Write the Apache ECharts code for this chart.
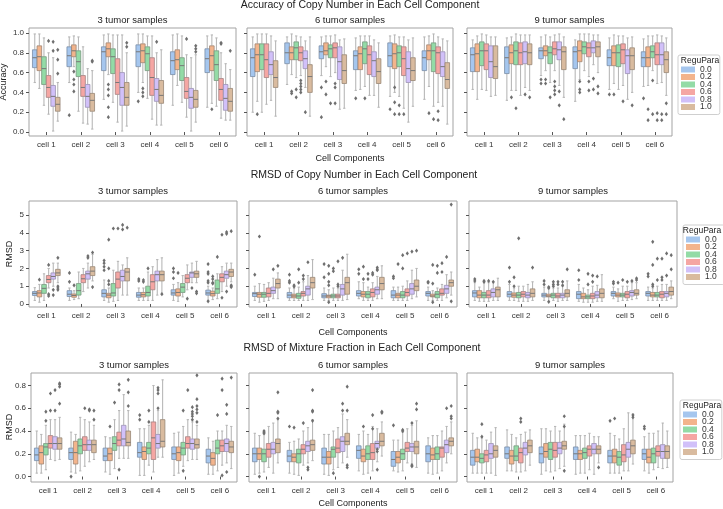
<!DOCTYPE html>
<html><head><meta charset="utf-8">
<script src="https://cdn.jsdelivr.net/npm/echarts@6/dist/echarts.min.js"></script>
<style>html,body{margin:0;padding:0;background:#fff}#c{width:723px;height:509px}</style>
</head><body><div id="c"></div>
<script>
// ---------------- data ----------------
const cells = ['cell 1','cell 2','cell 3','cell 4','cell 5','cell 6'];
const reguPara = ['0.0','0.2','0.4','0.6','0.8','1.0'];
const rowTitles = ['Accuracy of Copy Number in Each Cell Component','RMSD of Copy Number in Each Cell Component','RMSD of Mixture Fraction in Each Cell Component'];
const panelTitles = ['3 tumor samples','6 tumor samples','9 tumor samples'];
const yNames = ['Accuracy','RMSD','RMSD'];
const xName = 'Cell Components';
const legendTitle = 'ReguPara';
const yTicksAcc = [0,0.2,0.4,0.6,0.8,1.0];
const yTicksCN = [0,1,2,3,4,5];
const yTicksMix = [0,0.2,0.4,0.6,0.8];

// box stats: [cell][ReguPara] = [lowWhisker, q1, median, q3, highWhisker]; outliers: [cell][ReguPara] = [...]
const acc3Box = [
 [[0.50,0.65,0.75,0.83,0.99],[0.44,0.62,0.76,0.87,0.99],[0.27,0.48,0.64,0.76,0.95],[0.18,0.35,0.45,0.57,0.80],[0.01,0.26,0.36,0.47,0.75],[0.11,0.21,0.28,0.35,0.50]],
 [[0.50,0.66,0.77,0.86,0.96],[0.66,0.76,0.82,0.88,0.97],[0.21,0.56,0.71,0.82,0.96],[0.09,0.36,0.45,0.57,0.86],[0.08,0.25,0.36,0.48,0.64],[0.03,0.21,0.32,0.39,0.62]],
 [[0.33,0.62,0.81,0.86,0.98],[0.58,0.76,0.84,0.90,0.99],[0.30,0.59,0.76,0.84,0.98],[0.10,0.38,0.50,0.74,0.98],[0.01,0.27,0.45,0.60,0.98],[0.06,0.27,0.35,0.50,0.80]],
 [[0.40,0.66,0.81,0.88,0.99],[0.50,0.70,0.82,0.89,0.99],[0.34,0.62,0.79,0.86,0.97],[0.13,0.37,0.55,0.75,0.97],[0.07,0.31,0.43,0.54,0.80],[0.07,0.29,0.37,0.52,0.83]],
 [[0.27,0.58,0.72,0.81,0.98],[0.47,0.63,0.73,0.83,0.99],[0.30,0.52,0.67,0.75,0.97],[0.15,0.34,0.41,0.55,0.78],[0.01,0.24,0.35,0.44,0.75],[0.10,0.25,0.33,0.42,0.78]],
 [[0.25,0.60,0.74,0.84,0.97],[0.29,0.62,0.77,0.87,0.98],[0.26,0.52,0.68,0.82,0.95],[0.14,0.32,0.43,0.54,0.80],[0.12,0.22,0.34,0.48,0.69],[0.12,0.21,0.31,0.44,0.63]]
];
const acc3Out = [
 [[],[],[],[0.92],[0.91,0.82],[0.83,0.73,0.59]],
 [[0.17],[0.61,0.53,0.48,0.41],[],[],[],[0.72,0.71]],
 [[],[0.48,0.43,0.37,0.25,0.15],[],[],[],[0.90,0.86]],
 [[0.31],[0.44,0.40,0.36],[],[],[0.91],[]],
 [[],[],[],[0.94],[],[0.87,0.84,0.81]],
 [[],[0.23],[],[0.90,0.89],[],[0.82]]
];
const acc6Box = [
 [[0.20,0.56,0.75,0.84,0.96],[0.31,0.61,0.78,0.89,0.99],[0.20,0.63,0.78,0.89,0.99],[0.28,0.55,0.73,0.89,0.99],[0.32,0.58,0.68,0.81,0.97],[0.16,0.45,0.55,0.72,0.92]],
 [[0.48,0.69,0.80,0.90,0.96],[0.58,0.73,0.80,0.86,0.99],[0.55,0.73,0.85,0.91,0.97],[0.57,0.72,0.80,0.86,0.96],[0.45,0.64,0.74,0.82,0.92],[0.16,0.40,0.56,0.68,0.96]],
 [[0.57,0.74,0.81,0.87,0.96],[0.66,0.78,0.82,0.90,0.97],[0.56,0.75,0.84,0.88,0.97],[0.60,0.75,0.85,0.90,0.98],[0.23,0.53,0.71,0.86,0.93],[0.24,0.49,0.62,0.78,0.94]],
 [[0.42,0.63,0.77,0.82,0.95],[0.43,0.63,0.79,0.86,0.97],[0.46,0.69,0.84,0.91,0.97],[0.37,0.58,0.78,0.87,0.97],[0.37,0.56,0.72,0.81,0.93],[0.25,0.49,0.61,0.74,0.90]],
 [[0.36,0.66,0.77,0.90,0.97],[0.40,0.64,0.79,0.89,0.98],[0.36,0.66,0.80,0.87,0.96],[0.24,0.57,0.74,0.86,0.96],[0.10,0.50,0.64,0.81,0.93],[0.26,0.52,0.62,0.75,0.95]],
 [[0.33,0.62,0.75,0.82,0.96],[0.46,0.73,0.82,0.88,0.97],[0.26,0.61,0.82,0.90,0.99],[0.30,0.59,0.80,0.86,0.96],[0.26,0.56,0.66,0.81,0.94],[0.08,0.44,0.53,0.70,0.92]]
];
const acc6Out = [
 [[],[0.18],[],[],[],[]],
 [[],[0.41,0.39],[0.43,0.35],[0.52,0.49,0.46,0.43,0.40],[0.20],[]],
 [[0.45,0.15],[0.51,0.38],[0.29],[0.49,0.45,0.29],[],[]],
 [[0.34],[],[0.34],[],[],[]],
 [[0.23],[0.45,0.30,0.18],[0.27,0.18],[0.18],[],[]],
 [[],[0.19],[0.13],[0.21,0.12],[],[]]
];
const acc9Box = [
 [[0.43,0.61,0.78,0.85,0.93],[0.33,0.61,0.79,0.89,0.97],[0.43,0.67,0.82,0.91,0.99],[0.42,0.63,0.82,0.89,0.98],[0.36,0.55,0.71,0.87,0.96],[0.37,0.54,0.66,0.87,0.96]],
 [[0.32,0.59,0.75,0.86,0.95],[0.42,0.69,0.80,0.88,0.96],[0.42,0.68,0.82,0.91,0.99],[0.37,0.68,0.80,0.90,0.98],[0.45,0.69,0.81,0.91,0.98],[0.42,0.68,0.80,0.89,0.98]],
 [[0.57,0.74,0.82,0.85,0.96],[0.62,0.77,0.82,0.87,0.98],[0.50,0.69,0.80,0.86,0.96],[0.62,0.78,0.84,0.91,0.98],[0.47,0.73,0.83,0.91,0.99],[0.35,0.63,0.81,0.86,0.96]],
 [[0.31,0.64,0.81,0.86,0.93],[0.53,0.71,0.82,0.92,0.99],[0.62,0.79,0.86,0.91,0.99],[0.56,0.76,0.85,0.90,0.99],[0.68,0.80,0.85,0.92,0.98],[0.60,0.76,0.86,0.91,0.98]],
 [[0.43,0.67,0.75,0.83,0.95],[0.49,0.67,0.80,0.87,0.98],[0.43,0.66,0.80,0.88,0.97],[0.47,0.69,0.83,0.89,0.97],[0.33,0.59,0.77,0.83,0.95],[0.40,0.63,0.77,0.85,0.96]],
 [[0.46,0.66,0.75,0.81,0.94],[0.47,0.66,0.75,0.86,0.97],[0.62,0.75,0.81,0.87,0.97],[0.49,0.68,0.78,0.90,0.98],[0.50,0.68,0.78,0.90,0.97],[0.37,0.60,0.73,0.81,0.95]]
];
const acc9Out = [
 [[],[],[],[],[],[]],
 [[],[0.35],[0.24],[],[0.38],[0.35]],
 [[0.53,0.49],[0.53,0.49],[0.35],[0.51,0.46,0.42,0.38],[0.41,0.27],[0.13]],
 [[],[0.51,0.43,0.40],[],[0.51,0.42],[0.54,0.43],[0.46,0.39]],
 [[0.38],[0.38],[],[0.31],[],[0.27]],
 [[0.34],[0.23,0.12],[0.52,0.18],[0.19,0.12],[0.18,0.12],[0.29,0.18]]
];
const cn3Box = [
 [[0.2,0.48,0.60,0.70,0.92],[0.1,0.40,0.62,0.75,1.1],[0.2,0.6,0.88,1.1,1.7],[0.9,1.2,1.38,1.6,2.0],[1.0,1.4,1.55,1.75,2.3],[1.2,1.6,1.75,1.95,2.3]],
 [[0.2,0.42,0.55,0.75,0.9],[0.25,0.38,0.48,0.56,0.75],[0.3,0.5,0.75,1.15,1.8],[0.7,1.2,1.42,1.65,2.0],[0.9,1.4,1.7,1.85,2.3],[1.3,1.6,1.85,2.1,2.8]],
 [[0.2,0.4,0.6,0.8,1.35],[0.1,0.35,0.5,0.6,0.9],[0.15,0.45,0.62,1.15,1.9],[0.2,0.9,1.4,1.8,2.4],[0.5,1.3,1.55,1.9,2.2],[0.5,1.3,1.8,2.0,2.6]],
 [[0.2,0.38,0.5,0.65,0.9],[0.2,0.4,0.52,0.65,0.9],[0.2,0.45,0.65,1.0,1.8],[0.2,0.8,1.25,1.65,2.1],[0.5,1.3,1.65,1.85,2.5],[0.6,1.3,1.65,1.85,2.6]],
 [[0.2,0.5,0.62,0.8,1.1],[0.15,0.45,0.65,0.85,1.2],[0.4,0.65,0.95,1.15,1.6],[0.8,1.2,1.45,1.65,2.2],[1.2,1.5,1.75,1.8,2.3],[1.2,1.5,1.7,1.85,2.4]],
 [[0.2,0.5,0.62,0.78,1.0],[0.25,0.45,0.58,0.72,0.9],[0.3,0.6,0.85,1.35,1.7],[0.7,1.25,1.5,1.7,2.1],[1.0,1.45,1.65,1.85,2.3],[1.25,1.55,1.8,1.95,2.3]]
];
const cn3Out = [
 [[],[1.37],[],[2.2,0.55,0.45],[0.8,0.5],[2.6,1.0,0.9,0.8]],
 [[1.75,1.25],[1.05],[],[],[2.7,2.6],[2.9,0.95]],
 [[2.45,2.3,2.1,1.9],[3.62,2.0,1.3,1.1],[4.25],[4.25],[4.45,4.2],[4.3]],
 [[1.4,1.3],[1.35,1.25],[2.0],[],[],[0.55]],
 [[2.0,1.8,1.45],[1.75],[],[0.3],[0.9],[0.7,0.6]],
 [[2.25,1.8,1.7,1.3,1.2,0.15],[1.55,1.4,1.2,1.15],[2.65],[3.9,0.35],[4.05,3.95,0.7],[4.1,1.05,1.0,0.95]]
];
const cn6Box = [
 [[0.2,0.42,0.58,0.65,1.0],[0.1,0.38,0.55,0.65,1.15],[0.15,0.38,0.55,0.65,1.1],[0.2,0.4,0.6,0.9,1.2],[0.3,0.6,0.75,0.95,1.45],[0.3,0.9,1.15,1.4,1.75]],
 [[0.2,0.35,0.5,0.65,0.9],[0.2,0.35,0.45,0.55,0.9],[0.2,0.32,0.45,0.6,0.95],[0.2,0.45,0.6,0.7,1.25],[0.2,0.5,0.85,1.0,1.6],[0.25,0.9,1.2,1.5,2.5]],
 [[0.2,0.35,0.45,0.58,0.9],[0.2,0.35,0.45,0.5,0.8],[0.2,0.35,0.45,0.55,0.9],[0.2,0.35,0.45,0.55,0.9],[0.2,0.5,0.85,1.1,1.9],[0.25,0.55,1.2,1.5,2.8]],
 [[0.3,0.45,0.6,0.75,1.25],[0.2,0.4,0.55,0.7,1.2],[0.2,0.35,0.55,0.7,0.95],[0.2,0.4,0.65,0.85,1.2],[0.3,0.55,0.8,0.95,1.55],[0.3,0.8,1.15,1.5,2.15]],
 [[0.2,0.35,0.5,0.75,0.95],[0.2,0.35,0.5,0.6,0.95],[0.2,0.35,0.5,0.7,1.0],[0.2,0.45,0.65,0.85,1.3],[0.3,0.55,0.85,1.15,1.9],[0.4,0.75,1.0,1.35,2.0]],
 [[0.2,0.45,0.6,0.7,0.95],[0.2,0.4,0.45,0.55,0.75],[0.2,0.35,0.55,0.7,0.9],[0.2,0.5,0.6,0.85,1.1],[0.35,0.6,0.85,1.05,1.65],[0.5,1.0,1.2,1.35,1.8]]
];
const cn6Out = [
 [[1.65],[3.8],[],[],[1.95],[2.15]],
 [[1.65,1.3,1.2],[1.05,0.98],[1.95,1.2],[1.6,1.4],[2.35],[]],
 [[2.25,1.5],[2.15,1.7,1.25,1.05,0.1],[2.0,1.85],[2.4,1.1,1.0],[2.6],[]],
 [[1.95,1.7],[2.1,1.4],[1.7,1.4],[1.75,1.65],[2.05,1.95,1.9],[]],
 [[1.55,1.45],[2.25],[2.75,2.0],[2.85],[2.95],[3.0]],
 [[1.25,1.2],[2.2,1.15,0.1],[2.15,1.75],[2.3,1.8],[2.65],[5.6,0.15]]
];
const cn9Box = [
 [[0.2,0.4,0.62,0.75,1.2],[0.15,0.35,0.5,0.75,0.95],[0.15,0.35,0.5,0.65,1.2],[0.15,0.35,0.5,0.75,1.2],[0.2,0.4,0.65,0.85,1.2],[0.2,0.4,0.8,0.95,1.45]],
 [[0.2,0.4,0.55,0.7,1.1],[0.2,0.38,0.5,0.62,0.9],[0.15,0.35,0.5,0.65,1.0],[0.15,0.4,0.55,0.7,1.0],[0.15,0.35,0.5,0.65,1.1],[0.2,0.4,0.6,0.85,1.25]],
 [[0.2,0.4,0.5,0.6,0.95],[0.15,0.4,0.45,0.55,0.85],[0.2,0.35,0.5,0.6,0.9],[0.15,0.35,0.45,0.6,0.9],[0.2,0.35,0.5,0.6,1.0],[0.2,0.4,0.6,0.8,1.3]],
 [[0.15,0.3,0.55,0.7,1.1],[0.1,0.3,0.4,0.6,0.9],[0.1,0.3,0.4,0.5,0.8],[0.1,0.3,0.45,0.6,1.0],[0.15,0.35,0.5,0.7,1.05],[0.15,0.35,0.6,0.85,1.65]],
 [[0.3,0.45,0.6,0.7,0.95],[0.15,0.4,0.5,0.62,0.85],[0.2,0.4,0.5,0.6,1.0],[0.2,0.35,0.55,0.7,1.0],[0.25,0.45,0.65,0.75,1.2],[0.3,0.5,0.6,0.8,1.2]],
 [[0.2,0.45,0.6,0.7,0.95],[0.2,0.4,0.5,0.65,0.9],[0.2,0.4,0.5,0.65,1.0],[0.2,0.35,0.55,0.7,1.1],[0.2,0.4,0.6,0.7,1.1],[0.3,0.5,0.7,0.95,1.3]]
];
const cn9Out = [
 [[1.4,1.3],[],[1.3,1.25],[1.3],[1.25],[]],
 [[2.05,1.25],[1.5,1.0],[3.7],[],[],[2.05]],
 [[1.3,1.1],[0.95,0.9,0.12],[1.25,1.1,1.0],[1.25,1.1],[1.25,1.05],[1.95]],
 [[1.9,1.35],[],[1.7,1.1],[1.6,1.25],[1.55],[]],
 [[1.25,1.15],[1.2],[1.35],[1.25],[1.3],[1.45,1.35]],
 [[1.7,1.55],[3.5,2.2,1.1,1.0],[2.55,1.35],[2.55,1.5,1.35],[2.85,1.6],[2.75,1.95]]
];
const mix3Box = [
 [[0.03,0.14,0.19,0.25,0.40],[0.03,0.11,0.21,0.27,0.37],[0.06,0.19,0.26,0.29,0.45],[0.15,0.25,0.29,0.36,0.50],[0.14,0.24,0.29,0.35,0.50],[0.15,0.24,0.29,0.34,0.52]],
 [[0.04,0.15,0.21,0.25,0.39],[0.03,0.11,0.21,0.31,0.37],[0.05,0.20,0.27,0.33,0.52],[0.09,0.23,0.28,0.35,0.50],[0.13,0.23,0.28,0.32,0.48],[0.15,0.21,0.28,0.32,0.45]],
 [[0.04,0.14,0.18,0.25,0.35],[0.02,0.14,0.20,0.25,0.34],[0.07,0.23,0.29,0.35,0.50],[0.16,0.27,0.32,0.39,0.58],[0.16,0.27,0.33,0.45,0.72],[0.16,0.27,0.30,0.40,0.58]],
 [[0.01,0.17,0.21,0.30,0.42],[0.01,0.15,0.22,0.26,0.42],[0.10,0.20,0.25,0.30,0.45],[0.04,0.15,0.34,0.48,0.80],[0.17,0.25,0.29,0.37,0.58],[0.17,0.26,0.31,0.50,0.85]],
 [[0.01,0.15,0.20,0.26,0.38],[0.03,0.14,0.21,0.26,0.39],[0.09,0.19,0.25,0.30,0.44],[0.14,0.25,0.29,0.35,0.50],[0.15,0.24,0.29,0.33,0.48],[0.15,0.25,0.28,0.33,0.45]],
 [[0.02,0.12,0.18,0.24,0.34],[0.02,0.10,0.16,0.21,0.31],[0.05,0.20,0.25,0.32,0.40],[0.10,0.22,0.27,0.32,0.40],[0.12,0.22,0.29,0.33,0.45],[0.07,0.21,0.26,0.31,0.44]]
];
const mix3Out = [
 [[],[],[0.57,0.49],[0.73,0.58],[0.76,0.58],[0.82,0.81,0.79,0.64]],
 [[0.00],[],[],[0.60],[0.59,0.58],[0.58,0.50]],
 [[],[0.44],[0.65],[0.81,0.76,0.06],[],[0.85,0.74,0.62]],
 [[0.54,0.50],[],[0.58,0.48],[],[0.78,0.76,0.73,0.60],[]],
 [[],[],[0.58,0.05],[0.76],[0.61,0.57,0.55,0.53,0.50],[0.89,0.68,0.62,0.59,0.56,0.48]],
 [[],[],[0.54],[0.86,0.76,0.01],[0.63,0.55,0.04],[0.87]]
];
const mix6Box = [
 [[0.02,0.13,0.20,0.25,0.38],[0.03,0.15,0.20,0.25,0.36],[0.04,0.13,0.20,0.24,0.37],[0.08,0.17,0.24,0.29,0.44],[0.03,0.20,0.24,0.30,0.47],[0.12,0.21,0.29,0.33,0.50]],
 [[0.03,0.13,0.18,0.23,0.30],[0.02,0.13,0.17,0.20,0.31],[0.01,0.12,0.20,0.24,0.33],[0.10,0.20,0.24,0.28,0.40],[0.12,0.22,0.27,0.31,0.43],[0.14,0.23,0.28,0.32,0.50]],
 [[0.02,0.11,0.17,0.25,0.37],[0.01,0.11,0.17,0.22,0.37],[0.06,0.17,0.24,0.26,0.40],[0.08,0.21,0.25,0.33,0.43],[0.12,0.22,0.31,0.35,0.55],[0.17,0.28,0.31,0.38,0.50]],
 [[0.05,0.16,0.23,0.27,0.37],[0.02,0.13,0.18,0.24,0.40],[0.03,0.15,0.20,0.27,0.37],[0.05,0.15,0.21,0.29,0.44],[0.13,0.25,0.29,0.31,0.42],[0.18,0.27,0.31,0.38,0.48]],
 [[0.05,0.09,0.15,0.22,0.32],[0.04,0.12,0.17,0.22,0.32],[0.05,0.15,0.20,0.24,0.39],[0.12,0.22,0.25,0.30,0.42],[0.11,0.22,0.26,0.29,0.45],[0.08,0.20,0.26,0.31,0.49]],
 [[0.03,0.13,0.20,0.27,0.34],[0.02,0.15,0.19,0.25,0.36],[0.03,0.15,0.20,0.26,0.36],[0.05,0.17,0.25,0.26,0.40],[0.12,0.21,0.28,0.32,0.44],[0.20,0.27,0.31,0.34,0.48]]
];
const mix6Out = [
 [[],[0.00],[0.40,0.39,0.38],[],[],[0.74,0.57,0.56,0.51]],
 [[0.44],[0.43],[],[0.47],[0.08,0.06],[0.76,0.58,0.57,0.49]],
 [[],[],[0.03],[],[0.64,0.58],[0.79,0.58,0.10,0.08]],
 [[],[0.44],[],[0.54,0.42],[0.24,0.22,0.06],[0.57,0.56]],
 [[0.45],[],[0.41,0.40],[],[0.47,0.10,0.09],[0.64,0.59]],
 [[],[],[],[],[0.60],[0.62,0.53,0.51]]
];
const mix9Box = [
 [[0.03,0.10,0.17,0.23,0.38],[0.03,0.13,0.17,0.24,0.34],[0.03,0.12,0.16,0.20,0.34],[0.03,0.13,0.19,0.23,0.32],[0.03,0.16,0.20,0.29,0.39],[0.01,0.17,0.23,0.27,0.43]],
 [[0.05,0.16,0.20,0.26,0.41],[0.05,0.11,0.18,0.23,0.37],[0.04,0.14,0.18,0.27,0.34],[0.04,0.12,0.21,0.25,0.37],[0.05,0.19,0.25,0.30,0.39],[0.10,0.21,0.27,0.32,0.41]],
 [[0.02,0.12,0.20,0.26,0.42],[0.05,0.17,0.22,0.29,0.42],[0.04,0.15,0.24,0.30,0.40],[0.05,0.17,0.23,0.30,0.44],[0.07,0.20,0.25,0.30,0.40],[0.09,0.24,0.27,0.31,0.46]],
 [[0.02,0.15,0.20,0.26,0.36],[0.03,0.15,0.20,0.23,0.36],[0.03,0.16,0.21,0.25,0.36],[0.06,0.18,0.24,0.27,0.38],[0.02,0.20,0.24,0.29,0.35],[0.12,0.20,0.24,0.27,0.35]],
 [[0.03,0.12,0.18,0.23,0.38],[0.03,0.12,0.18,0.24,0.36],[0.03,0.10,0.17,0.22,0.33],[0.05,0.13,0.19,0.28,0.42],[0.05,0.17,0.24,0.30,0.56],[0.11,0.20,0.27,0.32,0.55]],
 [[0.05,0.15,0.20,0.24,0.35],[0.03,0.12,0.17,0.24,0.38],[0.06,0.12,0.20,0.25,0.38],[0.08,0.18,0.22,0.27,0.40],[0.07,0.16,0.22,0.28,0.47],[0.08,0.16,0.22,0.27,0.40]]
];
const mix9Out = [
 [[],[],[0.46,0.35],[],[],[]],
 [[],[],[],[0.51,0.48],[],[]],
 [[],[],[],[],[],[0.53,0.44,0.05]],
 [[],[],[],[],[],[0.08]],
 [[0.49],[0.51],[],[],[],[0.54,0.52]],
 [[0.44,0.42],[],[],[],[],[]]
];

// ---------------- styling / layout ----------------
const fills = ['#a5c6ee','#f3b48c','#93dba6','#f5a6a3','#d1c0f9','#d9bb9f'];
const edges = ['#7a8da6','#a08574','#78987f','#a38281','#9b92b2','#988775'];
const FONT = '"Liberation Sans", Arial, sans-serif';
const panels = [
  [acc3Box, acc3Out], [acc6Box, acc6Out], [acc9Box, acc9Out],
  [cn3Box, cn3Out], [cn6Box, cn6Out], [cn9Box, cn9Out],
  [mix3Box, mix3Out], [mix6Box, mix6Out], [mix9Box, mix9Out]
];
const rowTop = [28, 201, 373];
const rowH = [108, 106, 109];
const colX = [
  [[29,236],[247,453],[467,672]],
  [[29,237],[249,457],[469,677]],
  [[31,237],[249,457],[467,673]]
];
const yRange = [[-0.04,1.05],[-0.17,5.8],[-0.048,0.91]];
const yTicks = [yTicksAcc, yTicksCN, yTicksMix];
const yFmt = [v => v.toFixed(1), v => String(v), v => v.toFixed(1)];

function boxRender(g) {
  return function (params, api) {
    const cat = api.value(0);
    const bw = api.size([1, 0])[0];
    const w = bw * 0.8 / 6;
    const cx = api.coord([cat, 0])[0] + (g - 2.5) * w;
    const yy = i => api.coord([cat, api.value(i)])[1];
    const lo = yy(1), q1 = yy(2), md = yy(3), q3 = yy(4), hi = yy(5);
    const ws = {stroke: '#b8b8b8', lineWidth: 1.1};
    const cw = w * 0.25;
    return {type: 'group', children: [
      {type: 'line', shape: {x1: cx, y1: q3, x2: cx, y2: hi}, style: ws},
      {type: 'line', shape: {x1: cx, y1: q1, x2: cx, y2: lo}, style: ws},
      {type: 'line', shape: {x1: cx - cw, y1: hi, x2: cx + cw, y2: hi}, style: ws},
      {type: 'line', shape: {x1: cx - cw, y1: lo, x2: cx + cw, y2: lo}, style: ws},
      {type: 'rect', shape: {x: cx - w / 2, y: q3, width: w, height: q1 - q3},
        style: {fill: fills[g], stroke: edges[g], lineWidth: 0.8}},
      {type: 'line', shape: {x1: cx - w / 2, y1: md, x2: cx + w / 2, y2: md}, style: {stroke: '#777', lineWidth: 1}}
    ]};
  };
}
function outRender(g) {
  return function (params, api) {
    const cat = api.value(0);
    const bw = api.size([1, 0])[0];
    const w = bw * 0.8 / 6;
    const p = api.coord([cat, api.value(1)]);
    const cx = p[0] + (g - 2.5) * w, cy = p[1];
    const a = 1.6, b = 2.1;
    return {type: 'polygon', shape: {points: [[cx, cy - b], [cx + a, cy], [cx, cy + b], [cx - a, cy]]},
      style: {fill: '#6f6f6f', stroke: null}};
  };
}

const grid = [], xAxis = [], yAxis = [], series = [];
panels.forEach((pd, p) => {
  const r = Math.floor(p / 3), c = p % 3;
  const [x0, x1] = colX[r][c];
  grid.push({left: x0, top: rowTop[r], width: x1 - x0, height: rowH[r], show: true,
    borderColor: '#a3a3a3', borderWidth: 1, backgroundColor: 'transparent'});
  xAxis.push({type: 'category', gridIndex: p, data: cells, boundaryGap: true,
    axisLine: {show: false}, axisTick: {show: true, alignWithLabel: true, length: 3, lineStyle: {color: '#555'}},
    axisLabel: {fontSize: 8, color: '#333', margin: 5, fontFamily: FONT}, splitLine: {show: false}});
  yAxis.push({type: 'value', gridIndex: p, min: yRange[r][0], max: yRange[r][1],
    axisLine: {show: false}, splitLine: {show: false},
    axisTick: {show: true, length: 3, lineStyle: {color: '#555'}, customValues: yTicks[r]},
    axisLabel: {show: c === 0, fontSize: 8, color: '#333', margin: 5, fontFamily: FONT,
      customValues: yTicks[r], formatter: yFmt[r]}});
  const [box, out] = pd;
  for (let g = 0; g < 6; g++) {
    series.push({type: 'custom', name: reguPara[g], xAxisIndex: p, yAxisIndex: p,
      itemStyle: {color: fills[g]}, renderItem: boxRender(g), encode: {x: 0, y: [1, 2, 3, 4, 5]},
      data: cells.map((_, ci) => [ci].concat(box[ci][g])), z: 2, silent: true});
  }
  for (let g = 0; g < 6; g++) {
    const d = [];
    cells.forEach((_, ci) => out[ci][g].forEach(v => d.push([ci, v])));
    series.push({type: 'custom', name: reguPara[g], xAxisIndex: p, yAxisIndex: p,
      itemStyle: {color: fills[g]}, renderItem: outRender(g), encode: {x: 0, y: 1},
      data: d, z: 3, silent: true});
  }
});

const legendPos = [[678, 55], [683, 225], [680, 400]];
const legendTitleX = [700, 702, 702];
const legend = legendPos.map(([l, t]) => ({
  orient: 'vertical', left: l, top: t, padding: [10, 8, 3, 3],
  borderColor: '#cfcfcf', borderWidth: 1, borderRadius: 2,
  itemWidth: 14, itemHeight: 6, itemGap: -1.5,
  textStyle: {fontSize: 8.5, color: '#333', fontFamily: FONT},
  data: reguPara.map(n => ({name: n, icon: 'rect'})), selectedMode: false
}));

const txt = (x, y, text, size, extra) => Object.assign({type: 'text', x, y, silent: true, z: 10,
  style: {text, fontSize: size, fontFamily: FONT, fill: '#222', align: 'center', verticalAlign: 'middle'}}, extra || {});
const graphic = [];
const supY = [5, 175, 348], supX = [360, 364, 362];
const subY = [20, 191, 365];
const cellLblY = [159, 333, 504];
const yLblPos = [[4, 82], [10, 254], [10, 427]];
for (let r = 0; r < 3; r++) {
  graphic.push(txt(supX[r], supY[r], rowTitles[r], 10.5));
  for (let c = 0; c < 3; c++) {
    const [x0, x1] = colX[r][c];
    graphic.push(txt((x0 + x1) / 2, subY[r], panelTitles[c], 9.5));
  }
  graphic.push(txt((colX[r][1][0] + colX[r][1][1]) / 2, cellLblY[r], xName, 9));
  graphic.push(txt(yLblPos[r][0], yLblPos[r][1], yNames[r], 9, {rotation: Math.PI / 2}));
  graphic.push(txt(legendTitleX[r], legendPos[r][1] + 5.5, legendTitle, 8.5));
}

const chart = echarts.init(document.getElementById('c'), null, {renderer: 'canvas'});
chart.setOption({animation: false, backgroundColor: '#fff', grid, xAxis, yAxis, series, legend, graphic});
</script></body></html>
